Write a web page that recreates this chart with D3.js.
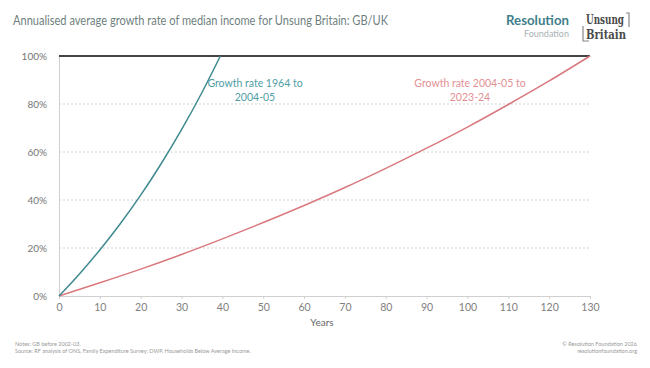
<!DOCTYPE html>
<html><head><meta charset="utf-8">
<script src="https://cdn.jsdelivr.net/npm/d3@7"></script>
<style>body{margin:0;background:#fff}svg{display:block}text{font-family:Lato,"Open Sans",sans-serif}</style>
</head><body><svg id="c" width="650" height="368"></svg>
<script>
// Data (cumulative growth, %)
const tealYears = [0, 5, 10, 15, 20, 25, 30, 35, 39.5];
const tealValues = [0, 9.2, 19.2, 30.1, 42.0, 55.1, 69.3, 84.8, 100];
const redYears = [0, 10, 20, 30, 40, 50, 60, 70, 80, 90, 100, 110, 120, 130];
const redValues = [0, 5.5, 11.2, 17.3, 23.8, 30.6, 37.7, 45.2, 53.2, 61.6, 70.4, 79.8, 89.6, 100];
const xTicks = [0,10,20,30,40,50,60,70,80,90,100,110,120,130];
const yTicks = [0,20,40,60,80,100];

const svg = d3.select("#c");
const x = d3.scaleLinear().domain([0,130]).range([59,590]);
const y = d3.scaleLinear().domain([0,100]).range([296,56]);

// title
svg.append("text").attr("x",13).attr("y",25).attr("font-size",14).attr("fill","#6f7f80")
  .attr("textLength",375).attr("lengthAdjust","spacingAndGlyphs")
  .text("Annualised average growth rate of median income for Unsung Britain: GB/UK");
// logos
svg.append("text").attr("x",569).attr("y",25).attr("text-anchor","end").attr("font-size",12.5).attr("font-weight","bold").attr("fill","#3f7f8a")
  .attr("textLength",63).attr("lengthAdjust","spacingAndGlyphs").text("Resolution");
svg.append("text").attr("x",569).attr("y",37).attr("text-anchor","end").attr("font-size",9).attr("fill","#a9b3b5").text("Foundation");
const ub = svg.append("g");
ub.append("text").attr("x",586).attr("y",24).attr("font-size",13).attr("font-weight","bold").style("font-family","'DejaVu Serif','Liberation Serif',serif").attr("fill","#4a4a4a")
  .attr("textLength",38).attr("lengthAdjust","spacingAndGlyphs").text("Unsung");
ub.append("text").attr("x",586).attr("y",38.5).attr("font-size",13).attr("font-weight","bold").style("font-family","'DejaVu Serif','Liberation Serif',serif").attr("fill","#4a4a4a")
  .attr("textLength",40).attr("lengthAdjust","spacingAndGlyphs").text("Britain");
ub.append("path").attr("d","M583,26 V41 H589").attr("fill","none").attr("stroke","#888").attr("stroke-width",1.2);
ub.append("path").attr("d","M626,13 H629 V27").attr("fill","none").attr("stroke","#888").attr("stroke-width",1.2);

// gridlines
svg.append("g").selectAll("line").data(yTicks.filter(d=>d>0&&d<100)).join("line")
  .attr("x1",59).attr("x2",590).attr("y1",d=>y(d)).attr("y2",d=>y(d))
  .attr("stroke","#c8c8c8").attr("stroke-width",0.8).attr("stroke-dasharray","2,2");
// y axis
const ya = svg.append("g").attr("transform","translate(59,0)").call(d3.axisLeft(y).tickValues(yTicks).tickFormat(d=>d+"%").tickSize(0).tickPadding(12));
ya.select(".domain").attr("stroke","#d0d0d0");
ya.selectAll("text").attr("font-size",10).attr("fill","#777");
// x axis
const xa = svg.append("g").attr("transform","translate(0,296)").call(d3.axisBottom(x).tickValues(xTicks).tickSize(3).tickPadding(5));
xa.select(".domain").attr("stroke","#d0d0d0");
xa.selectAll("line").attr("stroke","#d0d0d0");
xa.selectAll("text").attr("font-size",10.5).attr("fill","#808080");
svg.append("text").attr("x",322).attr("y",326).attr("text-anchor","middle").attr("font-size",10).attr("fill","#666").text("Years");

// 100% line
svg.append("line").attr("x1",59).attr("x2",590).attr("y1",y(100)).attr("y2",y(100)).attr("stroke","#444").attr("stroke-width",1.8);

const line = d3.line().x(d=>x(d[0])).y(d=>y(d[1])).curve(d3.curveMonotoneX);
svg.append("path").datum(redYears.map((v,i)=>[v,redValues[i]])).attr("d",line).attr("fill","none").attr("stroke","#d9797e").attr("stroke-width",1.5);
svg.append("path").datum(tealYears.map((v,i)=>[v,tealValues[i]])).attr("d",line).attr("fill","none").attr("stroke","#3f8a90").attr("stroke-width",1.5);

// labels
const lt = svg.append("text").attr("text-anchor","middle").attr("font-size",10.5).attr("fill","#4f9ea5");
lt.append("tspan").attr("x",255).attr("y",87).text("Growth rate 1964 to");
lt.append("tspan").attr("x",255).attr("y",101).text("2004-05");
const lr = svg.append("text").attr("text-anchor","middle").attr("font-size",10.5).attr("fill","#e39093");
lr.append("tspan").attr("x",470).attr("y",87).text("Growth rate 2004-05 to");
lr.append("tspan").attr("x",470).attr("y",101).text("2023-24");

// notes
svg.append("text").attr("x",15).attr("y",346).attr("font-size",5.5).attr("fill","#999").text("Notes: GB before 2002-03.");
svg.append("text").attr("x",15).attr("y",353).attr("font-size",5.5).attr("fill","#999").text("Source: RF analysis of ONS, Family Expenditure Survey; DWP, Households Below Average Income.");
svg.append("text").attr("x",637).attr("y",346).attr("text-anchor","end").attr("font-size",5.5).attr("fill","#999").text("© Resolution Foundation 2026");
svg.append("text").attr("x",637).attr("y",353).attr("text-anchor","end").attr("font-size",5.5).attr("fill","#999").text("resolutionfoundation.org");
</script></body></html>
